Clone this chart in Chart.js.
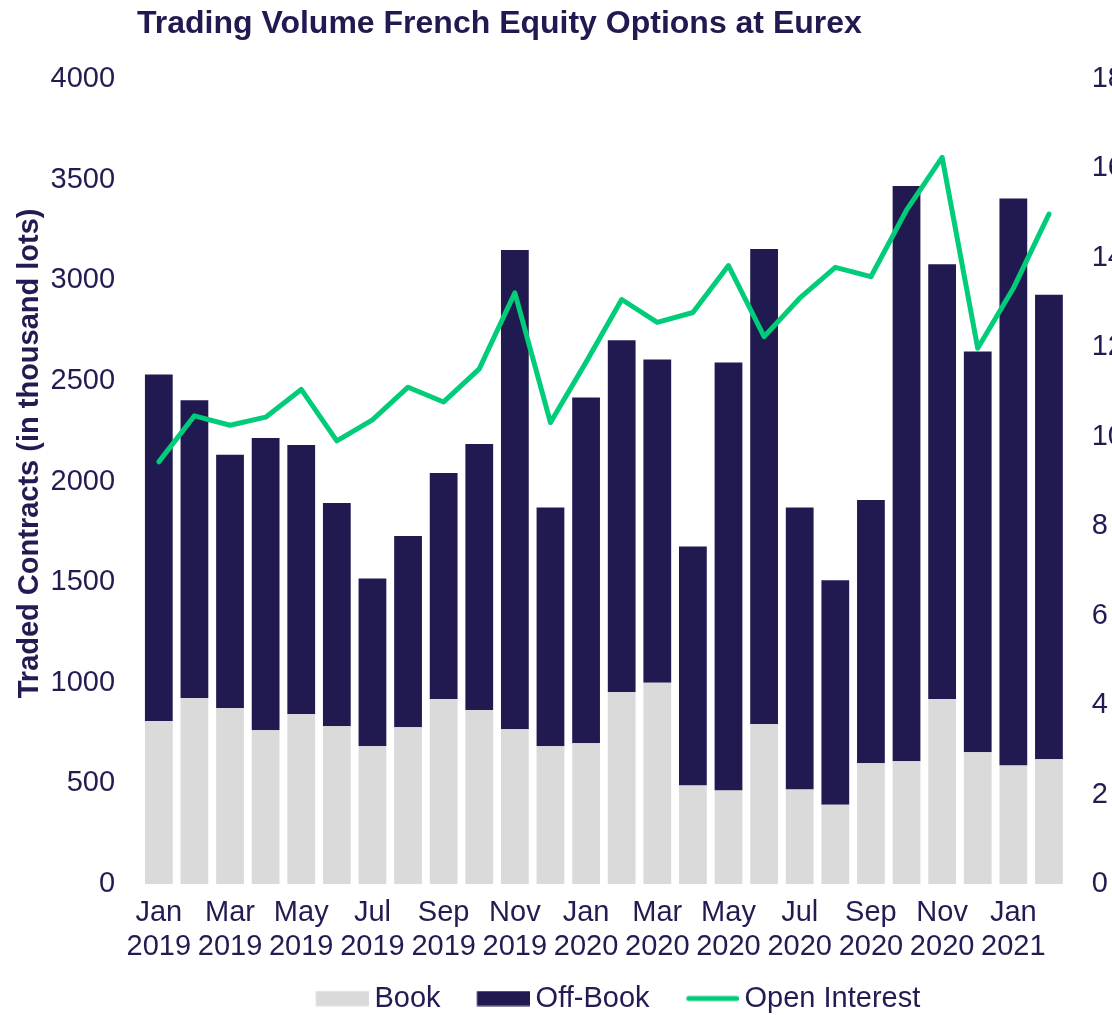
<!DOCTYPE html>
<html>
<head>
<meta charset="utf-8">
<script src="https://cdn.jsdelivr.net/npm/chart.js@4"></script>
<style>
  html, body { margin: 0; padding: 0; background: #ffffff; overflow: hidden; width: 1112px; height: 1015px; }
  #wrap { position: relative; width: 1112px; height: 1015px; overflow: hidden; }
  #title { position: absolute; left: 137px; top: 6px; margin: 0; font: bold 32px "Liberation Sans", Arial, sans-serif; line-height: 32px; color: #211a50; white-space: nowrap; }
  canvas { position: absolute; left: 0; top: 0; }
</style>
</head>
<body>
<div id="wrap">
  <canvas id="c" width="1152" height="1023"></canvas>
  <div id="title">Trading Volume French Equity Options at Eurex</div>
</div>
<script>
const months = ['Jan','Feb','Mar','Apr','May','Jun','Jul','Aug','Sep','Oct','Nov','Dec',
                'Jan','Feb','Mar','Apr','May','Jun','Jul','Aug','Sep','Oct','Nov','Dec',
                'Jan','Feb'];
const years = ['2019','2019','2019','2019','2019','2019','2019','2019','2019','2019','2019','2019',
               '2020','2020','2020','2020','2020','2020','2020','2020','2020','2020','2020','2020',
               '2021','2021'];
const bookValues = [810, 925, 875, 765, 845, 785, 685, 780, 920, 865, 770, 685,
                    700, 955, 1000, 490, 465, 795, 470, 395, 600, 610, 920, 655,
                    590, 620];
const offBookValues = [1722, 1479, 1258, 1451, 1337, 1108, 834, 949, 1122, 1322, 2380, 1186,
                       1718, 1747, 1607, 1188, 2127, 2361, 1401, 1115, 1309, 2859, 2160, 1991,
                       2816, 2308];
const openInterestValues = [9.44, 10.47, 10.26, 10.44, 11.06, 9.91, 10.38, 11.11, 10.78, 11.52, 13.22, 10.32,
                            11.67, 13.07, 12.56, 12.78, 13.83, 12.24, 13.10, 13.79, 13.58, 15.07, 16.25, 11.98,
                            13.32, 14.98];
const leftTicks = { min: 0, max: 4000, step: 500 };
const rightTicks = { min: 0, max: 18, step: 2 };

const NAVY = '#211a50';
const GREY = '#dadada';
const GREEN = '#00cc7a';
const TEXT = '#221c52';
const FONT = '"Liberation Sans", Arial, sans-serif';

const labels = months.map((m, i) => [m, years[i]]);

// legend markers (54 x 15 boxes / line), placed so the box sits 5px before its text
const PSW = 72.5;            // pointStyleWidth used by the legend layout
const IMG_W = PSW + 19;      // marker image width
const BOX_OFF = PSW - 35;    // box offset inside the image
function marker(kind, color) {
  const H = 16;
  const cv = document.createElement('canvas');
  cv.width = IMG_W; cv.height = H;
  const g = cv.getContext('2d');
  if (kind === 'rect') {
    g.fillStyle = color;
    g.fillRect(BOX_OFF, 0.5, 54, 15);
  } else {
    g.strokeStyle = color;
    g.lineWidth = 5;
    g.lineCap = 'round';
    g.beginPath();
    g.moveTo(BOX_OFF + 3, H / 2);
    g.lineTo(BOX_OFF + 51, H / 2);
    g.stroke();
  }
  return cv;
}
const markers = [marker('rect', GREY), marker('rect', NAVY), marker('line', GREEN)];

new Chart(document.getElementById('c'), {
  data: {
    labels: labels,
    datasets: [
      { type: 'bar', label: 'Book', data: bookValues, backgroundColor: GREY, yAxisID: 'y', order: 1,
        categoryPercentage: 1.0, barPercentage: 0.78 },
      { type: 'bar', label: 'Off-Book', data: offBookValues, backgroundColor: NAVY, yAxisID: 'y', order: 1,
        categoryPercentage: 1.0, barPercentage: 0.78 },
      { type: 'line', label: 'Open Interest', data: openInterestValues, borderColor: GREEN, backgroundColor: GREEN,
        borderWidth: 5, pointRadius: 0, tension: 0, yAxisID: 'y1', order: 0,
        borderJoinStyle: 'round', borderCapStyle: 'round' }
    ]
  },
  options: {
    responsive: false,
    animation: false,
    devicePixelRatio: 1,
    layout: { padding: { left: 12.7, right: 3, top: 79, bottom: 0 } },
    plugins: {
      title: { display: false },
      tooltip: { enabled: false },
      legend: {
        position: 'bottom',
        fullSize: false,
        labels: {
          font: { family: FONT, size: 29 },
          color: TEXT,
          usePointStyle: true,
          pointStyleWidth: PSW,
          boxHeight: 15,
          padding: 8,
          sort: (a, b) => a.datasetIndex - b.datasetIndex,
          generateLabels: (chart) => chart.data.datasets.map((ds, i) => ({
            text: ds.label,
            fillStyle: 'transparent',
            strokeStyle: 'transparent',
            lineWidth: 0,
            pointStyle: markers[i],
            hidden: false,
            datasetIndex: i,
            fontColor: TEXT
          }))
        }
      }
    },
    scales: {
      x: {
        stacked: true,
        grid: { display: false, drawTicks: false },
        border: { display: false },
        ticks: {
          autoSkip: false,
          maxRotation: 0,
          minRotation: 0,
          padding: 12,
          color: TEXT,
          font: { family: FONT, size: 29, lineHeight: 1.17 },
          callback: function (value, index) { return index % 2 === 0 ? labels[index] : ''; }
        }
      },
      y: {
        stacked: true,
        position: 'left',
        min: leftTicks.min,
        max: leftTicks.max,
        grid: { display: false, drawTicks: false },
        border: { display: false },
        ticks: {
          stepSize: leftTicks.step,
          padding: 26,
          color: TEXT,
          font: { family: FONT, size: 29 },
          callback: (v) => String(v)
        },
        title: {
          display: true,
          text: '       Traded Contracts (in thousand lots)',
          color: TEXT,
          padding: { top: 0, bottom: -23 },
          font: { family: FONT, size: 29, weight: 'bold', lineHeight: 1.2 }
        }
      },
      y1: {
        position: 'right',
        min: rightTicks.min,
        max: rightTicks.max,
        grid: { display: false, drawTicks: false },
        border: { display: false },
        ticks: {
          stepSize: rightTicks.step,
          padding: 25,
          color: TEXT,
          font: { family: FONT, size: 29 },
          callback: (v) => String(v)
        }
      }
    }
  }
});
</script>
</body>
</html>
